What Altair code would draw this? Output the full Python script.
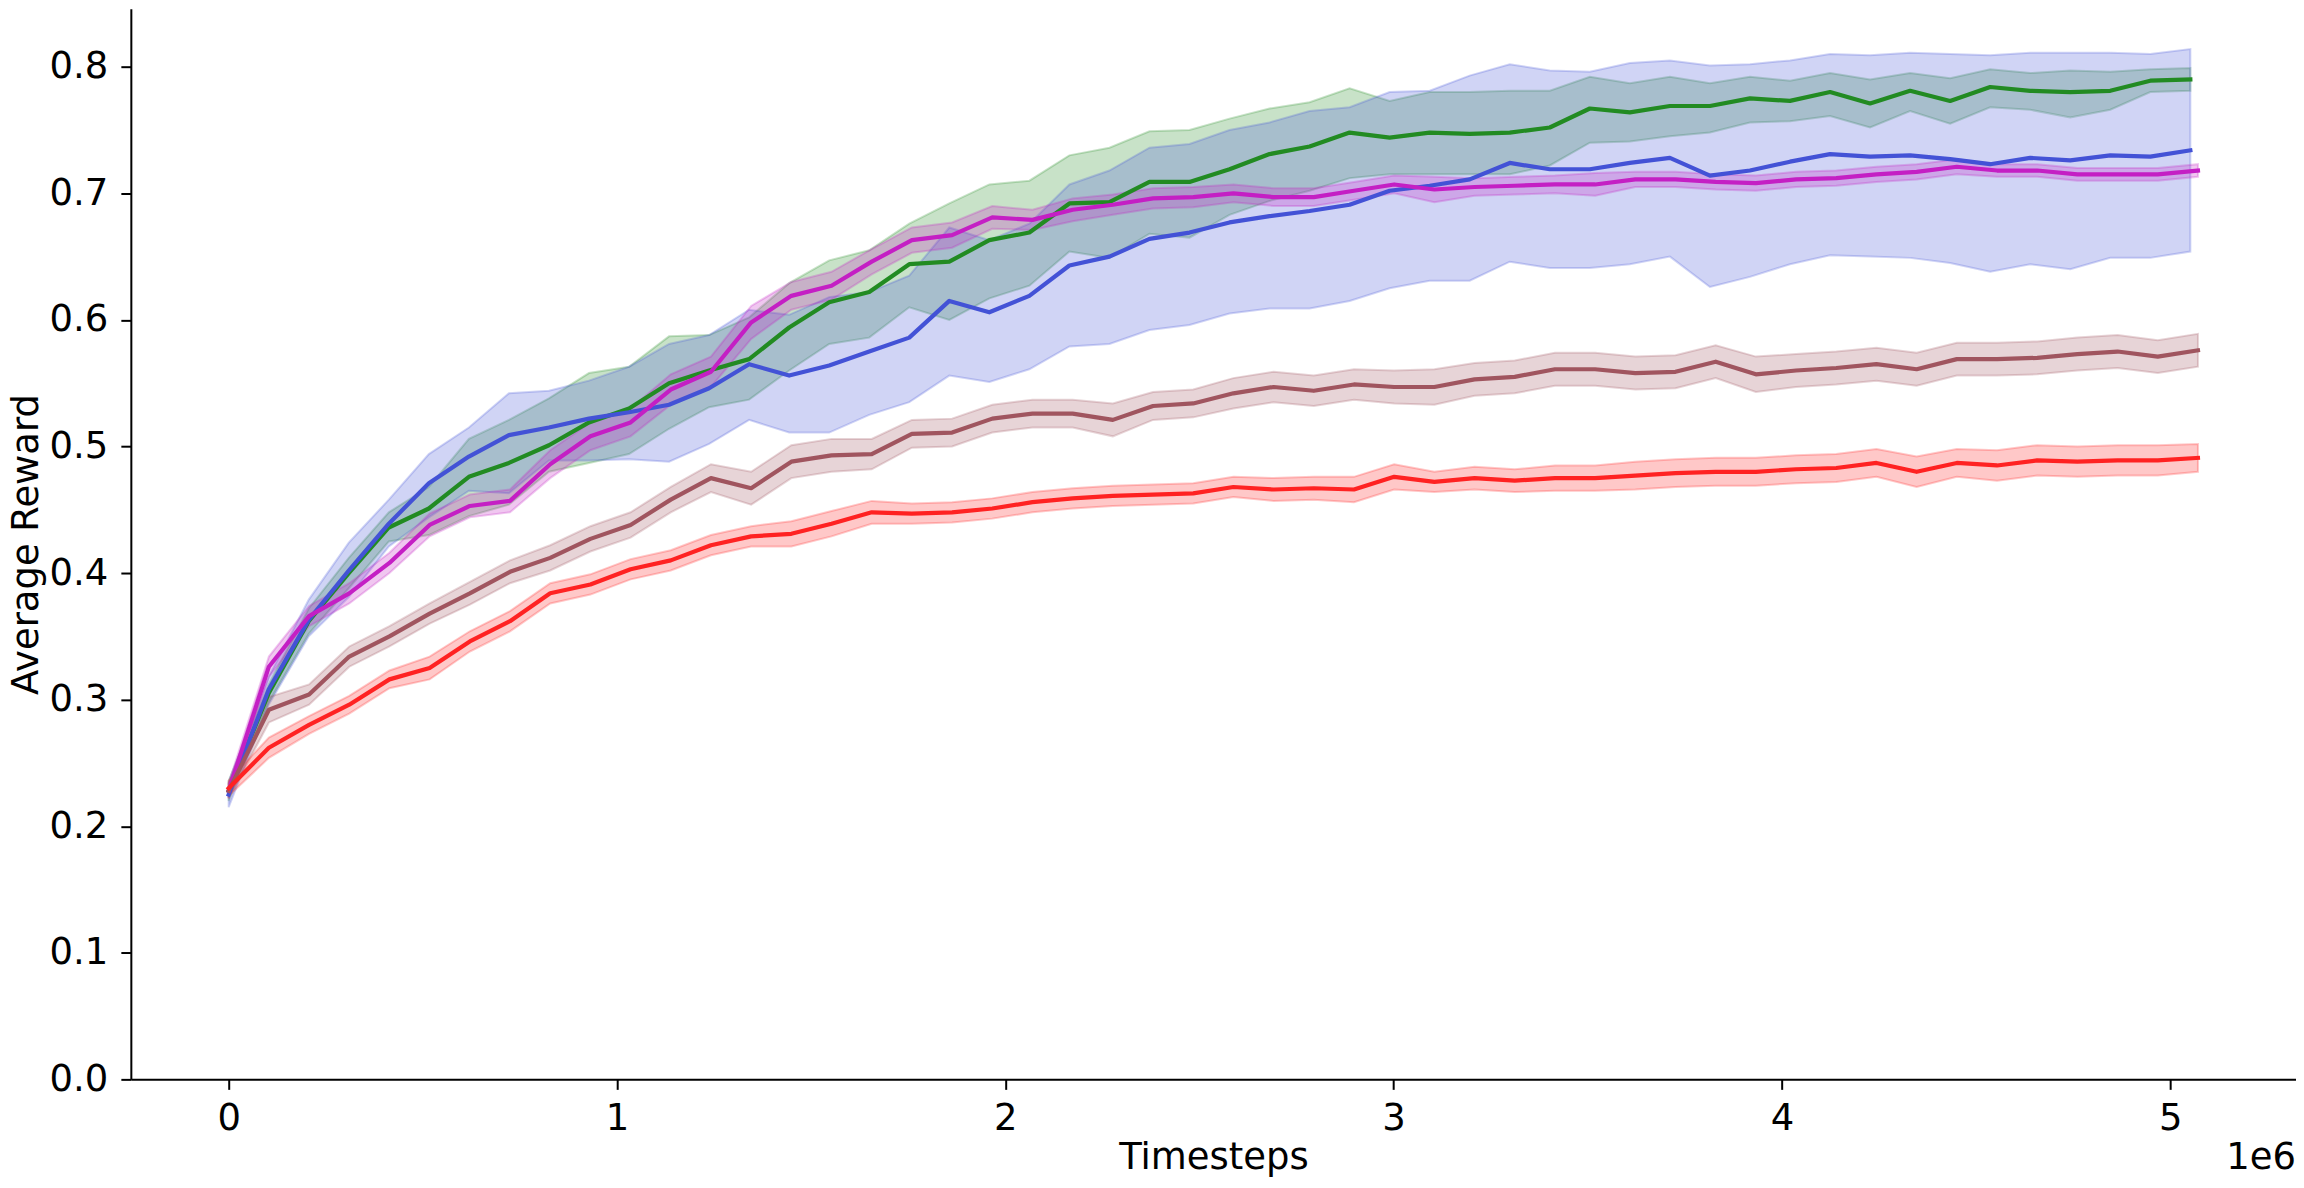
import altair as alt
import pandas as pd

# ---- data ----
STEP_GB = 103100      # timestep spacing of green / blue runs
STEP_MBR = 103500     # timestep spacing of magenta / brown / red runs

green_mean = [0.228, 0.305, 0.362, 0.400, 0.436, 0.451, 0.476, 0.487, 0.501, 0.519,
              0.530, 0.550, 0.560, 0.569, 0.594, 0.614, 0.622, 0.644, 0.646, 0.663,
              0.669, 0.692, 0.693, 0.709, 0.709, 0.719, 0.731, 0.737, 0.748, 0.744,
              0.748, 0.747, 0.748, 0.752, 0.767, 0.764, 0.769, 0.769, 0.775, 0.773,
              0.780, 0.771, 0.781, 0.773, 0.784, 0.781, 0.780, 0.781, 0.789, 0.790]
green_hi = [0.236, 0.312, 0.372, 0.412, 0.448, 0.468, 0.506, 0.521, 0.538, 0.558,
            0.563, 0.587, 0.588, 0.602, 0.629, 0.647, 0.655, 0.676, 0.692, 0.707,
            0.710, 0.730, 0.736, 0.749, 0.750, 0.759, 0.767, 0.772, 0.783, 0.773,
            0.780, 0.780, 0.781, 0.781, 0.792, 0.787, 0.792, 0.787, 0.792, 0.789,
            0.795, 0.790, 0.795, 0.791, 0.798, 0.795, 0.797, 0.796, 0.798, 0.799]
green_lo = [0.220, 0.298, 0.352, 0.388, 0.425, 0.430, 0.445, 0.454, 0.480, 0.487,
            0.494, 0.514, 0.531, 0.537, 0.560, 0.581, 0.586, 0.610, 0.600, 0.617,
            0.627, 0.654, 0.649, 0.668, 0.665, 0.683, 0.694, 0.702, 0.712, 0.715,
            0.715, 0.715, 0.715, 0.722, 0.740, 0.741, 0.745, 0.748, 0.756, 0.757,
            0.761, 0.752, 0.765, 0.755, 0.768, 0.766, 0.760, 0.766, 0.780, 0.781]

blue_mean = [0.225, 0.308, 0.363, 0.402, 0.439, 0.471, 0.492, 0.509, 0.515, 0.522,
             0.527, 0.533, 0.546, 0.565, 0.556, 0.564, 0.575, 0.586, 0.615, 0.606,
             0.619, 0.643, 0.650, 0.664, 0.669, 0.677, 0.682, 0.686, 0.691, 0.702,
             0.706, 0.711, 0.724, 0.719, 0.719, 0.724, 0.728, 0.714, 0.718, 0.725,
             0.731, 0.729, 0.730, 0.727, 0.723, 0.728, 0.726, 0.730, 0.729, 0.734]
blue_hi = [0.235, 0.318, 0.379, 0.424, 0.458, 0.494, 0.515, 0.542, 0.544, 0.552,
           0.563, 0.581, 0.588, 0.608, 0.604, 0.618, 0.622, 0.635, 0.673, 0.663,
           0.676, 0.707, 0.718, 0.736, 0.739, 0.750, 0.756, 0.765, 0.768, 0.780,
           0.781, 0.793, 0.802, 0.797, 0.796, 0.803, 0.805, 0.801, 0.802, 0.805,
           0.810, 0.809, 0.811, 0.810, 0.809, 0.811, 0.811, 0.811, 0.810, 0.814]
blue_lo = [0.215, 0.296, 0.350, 0.381, 0.421, 0.444, 0.465, 0.463, 0.489, 0.489,
           0.490, 0.488, 0.502, 0.521, 0.511, 0.511, 0.525, 0.535, 0.556, 0.551,
           0.561, 0.579, 0.581, 0.592, 0.596, 0.605, 0.609, 0.609, 0.615, 0.625,
           0.631, 0.631, 0.646, 0.641, 0.641, 0.644, 0.650, 0.626, 0.634, 0.644,
           0.651, 0.650, 0.649, 0.645, 0.638, 0.644, 0.640, 0.649, 0.649, 0.654]

magenta_mean = [0.228, 0.326, 0.366, 0.384, 0.408, 0.438, 0.453, 0.457, 0.486, 0.508,
                0.519, 0.545, 0.559, 0.598, 0.619, 0.627, 0.646, 0.663, 0.667, 0.681,
                0.679, 0.687, 0.691, 0.696, 0.697, 0.700, 0.697, 0.697, 0.702, 0.707,
                0.703, 0.705, 0.706, 0.707, 0.707, 0.711, 0.711, 0.709, 0.708, 0.711,
                0.712, 0.715, 0.717, 0.721, 0.718, 0.718, 0.715, 0.715, 0.715, 0.718]
magenta_hw = [0.006, 0.008, 0.008, 0.008, 0.008, 0.009, 0.009, 0.009, 0.011, 0.011,
              0.011, 0.012, 0.012, 0.013, 0.011, 0.011, 0.010, 0.010, 0.010, 0.009,
              0.008, 0.009, 0.008, 0.008, 0.008, 0.007, 0.007, 0.007, 0.007, 0.007,
              0.010, 0.007, 0.007, 0.007, 0.009, 0.006, 0.006, 0.006, 0.006, 0.006,
              0.006, 0.006, 0.006, 0.006, 0.005, 0.005, 0.005, 0.005, 0.005, 0.005]

brown_mean = [0.228, 0.292, 0.304, 0.334, 0.350, 0.368, 0.384, 0.401, 0.412, 0.427,
              0.438, 0.458, 0.475, 0.467, 0.488, 0.493, 0.494, 0.510, 0.511, 0.522,
              0.526, 0.526, 0.521, 0.532, 0.534, 0.542, 0.547, 0.544, 0.549, 0.547,
              0.547, 0.553, 0.555, 0.561, 0.561, 0.558, 0.559, 0.567, 0.557, 0.560,
              0.562, 0.565, 0.561, 0.569, 0.569, 0.570, 0.573, 0.575, 0.571, 0.576]
brown_hw = [0.006, 0.010, 0.008, 0.008, 0.008, 0.008, 0.009, 0.009, 0.010, 0.010,
            0.010, 0.010, 0.011, 0.013, 0.013, 0.013, 0.012, 0.011, 0.011, 0.011,
            0.011, 0.011, 0.013, 0.011, 0.011, 0.012, 0.012, 0.012, 0.012, 0.013,
            0.014, 0.013, 0.013, 0.013, 0.013, 0.013, 0.013, 0.013, 0.014, 0.013,
            0.013, 0.013, 0.013, 0.013, 0.013, 0.013, 0.013, 0.013, 0.013, 0.013]

red_mean = [0.230, 0.262, 0.280, 0.296, 0.316, 0.325, 0.346, 0.362, 0.384, 0.391,
            0.403, 0.410, 0.422, 0.429, 0.431, 0.439, 0.448, 0.447, 0.448, 0.451,
            0.456, 0.459, 0.461, 0.462, 0.463, 0.468, 0.466, 0.467, 0.466, 0.476,
            0.472, 0.475, 0.473, 0.475, 0.475, 0.477, 0.479, 0.480, 0.480, 0.482,
            0.483, 0.487, 0.480, 0.487, 0.485, 0.489, 0.488, 0.489, 0.489, 0.491]
red_hw = [0.006, 0.008, 0.007, 0.007, 0.007, 0.009, 0.008, 0.008, 0.008, 0.008,
          0.008, 0.008, 0.008, 0.008, 0.010, 0.010, 0.009, 0.008, 0.008, 0.008,
          0.008, 0.008, 0.008, 0.008, 0.008, 0.008, 0.009, 0.009, 0.010, 0.010,
          0.008, 0.009, 0.009, 0.010, 0.010, 0.011, 0.011, 0.011, 0.011, 0.011,
          0.011, 0.011, 0.012, 0.011, 0.012, 0.012, 0.012, 0.012, 0.012, 0.011]

x_ticks = [0, 1000000, 2000000, 3000000, 4000000, 5000000]
y_ticks = [0.0, 0.1, 0.2, 0.3, 0.4, 0.5, 0.6, 0.7, 0.8]

colors = {
    "green": "#228b22",
    "blue": "#4352d6",
    "magenta": "#c41fc4",
    "brown": "#a0555f",
    "red": "#ff2222",
}


def frame(step, mean, lo, hi):
    return pd.DataFrame({
        "x": [i * step for i in range(len(mean))],
        "mean": mean,
        "lo": lo,
        "hi": hi,
    })


def hw_frame(step, mean, hw):
    return frame(step, mean, [m - h for m, h in zip(mean, hw)], [m + h for m, h in zip(mean, hw)])


series = [
    ("green", frame(STEP_GB, green_mean, green_lo, green_hi)),
    ("blue", frame(STEP_GB, blue_mean, blue_lo, blue_hi)),
    ("magenta", hw_frame(STEP_MBR, magenta_mean, magenta_hw)),
    ("brown", hw_frame(STEP_MBR, brown_mean, brown_hw)),
    ("red", hw_frame(STEP_MBR, red_mean, red_hw)),
]

FONT = "DejaVu Sans"
FS = 37
PLOT_W = 2168
PLOT_H = 1072

x_enc = alt.X(
    "x:Q",
    scale=alt.Scale(domain=[-252000, 5324000], nice=False, zero=False),
    axis=alt.Axis(
        values=x_ticks,
        labelExpr="format(datum.value / 1000000, 'd')",
        title="Timesteps",
        labelPadding=11,
        titlePadding=3,
    ),
)
y_scale = alt.Scale(domain=[0, 0.8458], nice=False, zero=True)
y_axis = alt.Axis(values=y_ticks, format=".1f", title="Average Reward",
                  labelPadding=13, titlePadding=4)

layers = []
for name, df in series:
    c = colors[name]
    layers.append(
        alt.Chart(df).mark_area(
            color=c, fillOpacity=0.25, stroke=c, strokeOpacity=0.25, strokeWidth=2
        ).encode(
            x=x_enc,
            y=alt.Y("lo:Q", scale=y_scale, axis=y_axis),
            y2="hi:Q",
        )
    )
for name, df in series:
    c = colors[name]
    layers.append(
        alt.Chart(df).mark_line(
            color=c, strokeWidth=4.2, strokeJoin="round", strokeCap="square"
        ).encode(
            x=x_enc,
            y=alt.Y("mean:Q", scale=y_scale, axis=y_axis),
        )
    )

offset_text = alt.Chart(pd.DataFrame({"t": ["1e6"]})).mark_text(
    align="right", baseline="alphabetic", font=FONT, fontSize=FS, color="black"
).encode(
    x=alt.value(PLOT_W),
    y=alt.value(1162),
    text="t:N",
)
layers.append(offset_text)

chart = alt.layer(*layers).properties(
    width=PLOT_W,
    height=PLOT_H,
    padding={"left": 123, "top": 0, "right": 0, "bottom": 100},
    autosize=alt.AutoSizeParams(type="none"),
).configure_view(
    stroke=None
).configure_axis(
    grid=False,
    domainColor="black",
    domainWidth=2,
    tickColor="black",
    tickWidth=2,
    tickSize=10,
    labelColor="black",
    labelFont=FONT,
    labelFontSize=FS,
    titleColor="black",
    titleFont=FONT,
    titleFontSize=FS,
    titleFontWeight="normal",
)

chart.save("out.html", embed_options={"renderer": "svg", "actions": False})
